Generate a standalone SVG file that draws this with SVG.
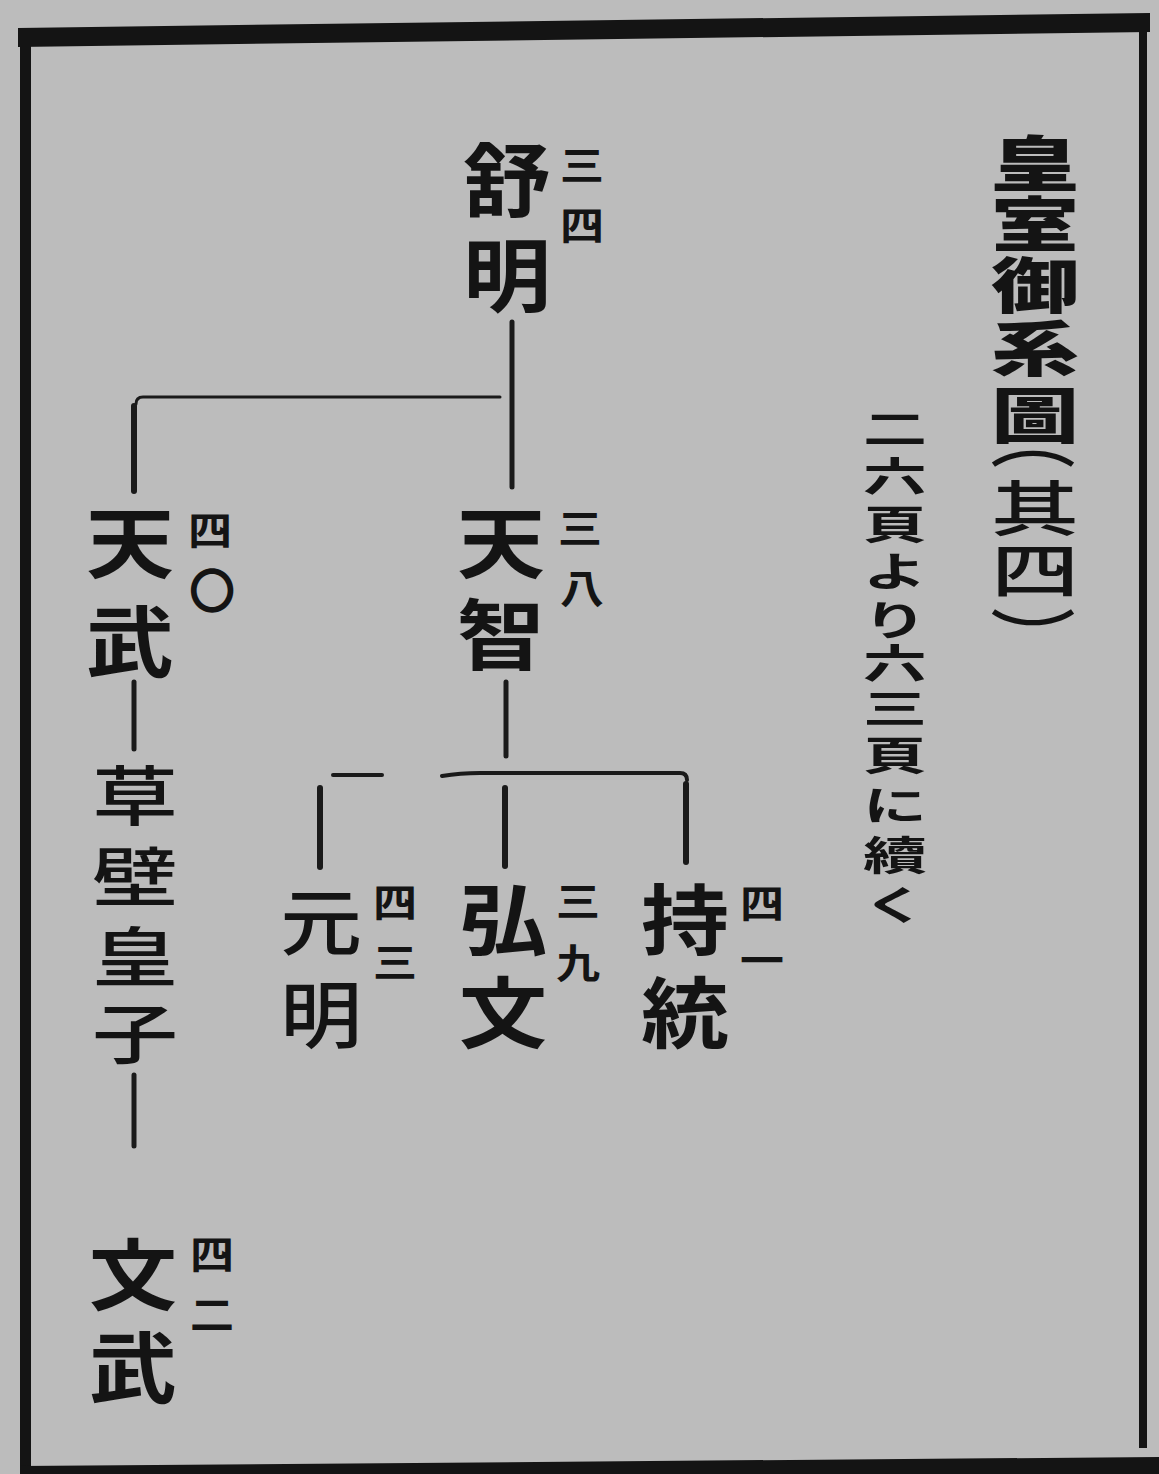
<svg xmlns="http://www.w3.org/2000/svg" width="1159" height="1474" viewBox="0 0 1159 1474">
<style>
text{font-family:"Noto Sans CJK JP","Noto Sans CJK SC",sans-serif;text-anchor:middle;dominant-baseline:central;fill:#141414}
.b{font-size:88px;font-weight:700}
.m{font-size:86px;font-weight:500}
.s{font-size:44px;font-weight:700}
.t{font-size:88px;font-weight:900}
.tp{font-size:88px;font-weight:500}
.pr{font-size:86px;font-weight:500}
.u{font-size:64px;font-weight:700}
.c{stroke:#1a1a1a;fill:none;stroke-linecap:round;stroke-linejoin:round}
</style>
<rect width="1159" height="1474" fill="#bcbcbc"/>
<g id="frame" fill="#141414">
<polygon points="18,28 1150,13 1150,32 18,47"/>
<rect x="20" y="30" width="11" height="1444"/>
<rect x="1139" y="14" width="8" height="1434"/>
<polygon points="20,1466 1159,1457 1159,1474 20,1474"/>
</g>
<g id="connectors">
<path class="c" stroke-width="5" d="M512,322 V487"/>
<path class="c" stroke-width="3" d="M500,397 H143 Q136,397 136,404"/>
<path class="c" stroke-width="6" d="M134,406 V491"/>
<path class="c" stroke-width="5" d="M506,682 V756"/>
<path class="c" stroke-width="4" d="M333,775 H382"/>
<path class="c" stroke-width="4" d="M442,776 Q460,773 480,773 H680 Q687,773 687,780"/>
<path class="c" stroke-width="6" d="M320,788 V867"/>
<path class="c" stroke-width="6" d="M505,788 V866"/>
<path class="c" stroke-width="6" d="M686,784 V862"/>
<path class="c" stroke-width="5" d="M134,682 V749"/>
<path class="c" stroke-width="5" d="M134,1075 V1146"/>
</g>
<g id="title">
<text class="t" transform="matrix(1 0 0 0.68 1035 160)">皇</text>
<text class="t" transform="matrix(1 0 0 0.68 1035 221)">室</text>
<text class="t" transform="matrix(1 0 0 0.68 1035 282)">御</text>
<text class="t" transform="matrix(1 0 0 0.68 1035 345)">系</text>
<text class="t" transform="matrix(1 0 0 0.68 1035 412)">圖</text>
<text class="pr" transform="matrix(1 0 0 0.68 1033 437)">︵</text>
<text class="tp" transform="matrix(1 0 0 0.68 1035 505)">其</text>
<text class="tp" transform="matrix(1 0 0 0.68 1035 567)">四</text>
<text class="pr" transform="matrix(1 0 0 0.68 1033 633)">︶</text>
</g>
<g id="subtitle">
<text class="u" transform="matrix(1 0 0 0.62 895 425)">二</text>
<text class="u" transform="matrix(1 0 0 0.62 895 473)">六</text>
<text class="u" transform="matrix(1 0 0 0.62 895 521)">頁</text>
<text class="u" transform="matrix(1 0 0 0.62 895 568)">よ</text>
<text class="u" transform="matrix(1 0 0 0.62 895 617)">り</text>
<text class="u" transform="matrix(1 0 0 0.62 895 660)">六</text>
<text class="u" transform="matrix(1 0 0 0.62 895 705)">三</text>
<text class="u" transform="matrix(1 0 0 0.62 895 752)">頁</text>
<text class="u" transform="matrix(1 0 0 0.62 895 802)">に</text>
<text class="u" transform="matrix(1 0 0 0.62 895 852)">續</text>
<text class="u" transform="matrix(1 0 0 0.62 895 902)">く</text>
</g>
<g id="jomei">
<text class="b" transform="matrix(1 0 0 0.9 507 175)">舒</text>
<text class="b" transform="matrix(1 0 0 0.9 507 270)">明</text>
<text class="s" transform="matrix(1 0 0 0.9 582 162)">三</text>
<text class="s" transform="matrix(1 0 0 0.9 582 222)">四</text>
</g>
<g id="tenmu">
<text class="b" transform="matrix(1 0 0 0.88 130 538)">天</text>
<text class="b" transform="matrix(1 0 0 0.88 130 637)">武</text>
<text class="s" transform="matrix(1 0 0 0.9 210 527)">四</text>
<text class="s" transform="matrix(1.05 0 0 1.05 212 587)">〇</text>
</g>
<g id="tenji">
<text class="b" transform="matrix(1 0 0 0.88 501 538)">天</text>
<text class="b" transform="matrix(1 0 0 0.88 501 630)">智</text>
<text class="s" transform="matrix(1 0 0 0.9 580 525)">三</text>
<text class="s" transform="matrix(1 0 0 0.9 582 585)">八</text>
</g>
<g id="genmei">
<text class="m" transform="matrix(0.95 0 0 0.85 321 917)">元</text>
<text class="m" transform="matrix(0.95 0 0 0.85 321 1010)">明</text>
<text class="s" transform="matrix(1 0 0 0.9 395 899)">四</text>
<text class="s" transform="matrix(1 0 0 0.9 395 959)">三</text>
</g>
<g id="kobun">
<text class="b" transform="matrix(1 0 0 0.88 503 915)">弘</text>
<text class="b" transform="matrix(1 0 0 0.88 503 1008)">文</text>
<text class="s" transform="matrix(1 0 0 0.9 578 898)">三</text>
<text class="s" transform="matrix(1 0 0 0.9 578 960)">九</text>
</g>
<g id="jito">
<text class="b" transform="matrix(1 0 0 0.88 685 915)">持</text>
<text class="b" transform="matrix(1 0 0 0.88 685 1008)">統</text>
<text class="s" transform="matrix(1 0 0 0.9 762 900)">四</text>
<text class="s" transform="matrix(1 0 0 0.9 762 957)">一</text>
</g>
<g id="kusakabe">
<text class="m" transform="matrix(1 0 0 0.75 135 792)">草</text>
<text class="m" transform="matrix(1 0 0 0.75 135 873)">壁</text>
<text class="m" transform="matrix(1 0 0 0.75 135 953)">皇</text>
<text class="m" transform="matrix(1 0 0 0.75 135 1030)">子</text>
</g>
<g id="monmu">
<text class="b" transform="matrix(1 0 0 0.88 133 1270)">文</text>
<text class="b" transform="matrix(1 0 0 0.88 133 1363)">武</text>
<text class="s" transform="matrix(1 0 0 0.9 212 1251)">四</text>
<text class="s" transform="matrix(1 0 0 0.9 212 1311)">二</text>
</g>
</svg>
